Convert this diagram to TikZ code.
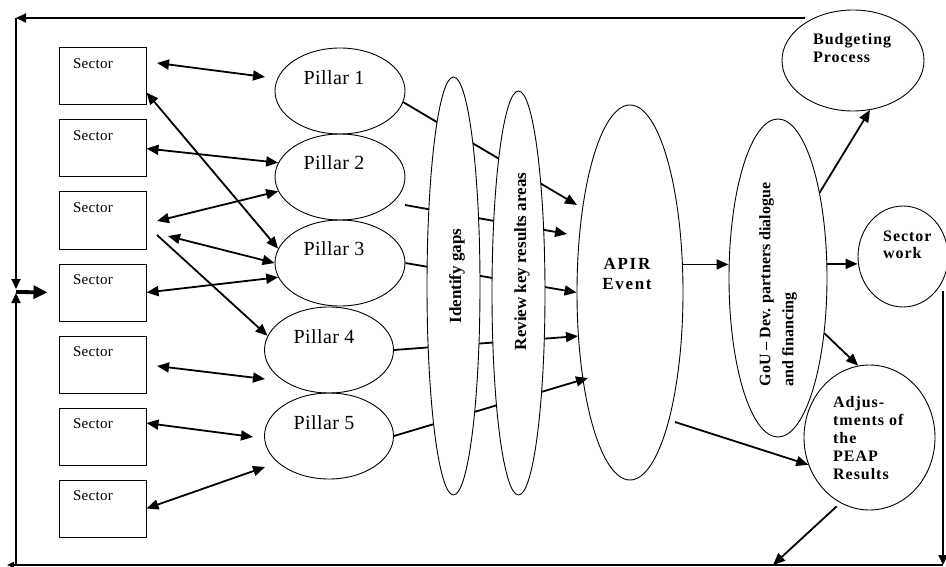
\documentclass[tikz,border=0pt]{standalone}
\usepackage{fontspec}
\setmainfont{Liberation Serif}
\usetikzlibrary{shapes.geometric,arrows.meta,calc}
\begin{document}
\begin{tikzpicture}[x=1pt,y=-1pt,
  sbox/.style={draw, rectangle, line width=1pt, minimum width=87pt, minimum height=57pt, inner sep=0pt},
  stext/.style={inner sep=0pt, font=\fontsize{15}{17}\selectfont\addfontfeatures{LetterSpace=2}},
  ell/.style={draw, ellipse, line width=0.9pt, inner sep=0pt},
  pill/.style={ell, minimum width=130pt, minimum height=86pt},
  ptext/.style={inner sep=0pt, font=\fontsize{20}{22}\selectfont\addfontfeatures{LetterSpace=2}},
  tall/.style={ell, fill=white},
  rtext/.style={inner sep=0pt, rotate=90, font=\fontsize{17}{20}\selectfont\bfseries},
  btext/.style={inner sep=0pt, align=left, font=\fontsize{16}{18}\selectfont\bfseries\addfontfeatures{LetterSpace=6}},
  conn/.style={line width=1.8pt, -{Triangle[length=12pt,width=10pt]}},
  dconn/.style={line width=1.8pt, {Triangle[length=12pt,width=10pt]}-{Triangle[length=12pt,width=10pt]}},
  frame/.style={line width=2.1pt},
  ftip/.style={-{Triangle[length=10pt,width=9pt]}}
]
\useasboundingbox (0,0) rectangle (946,567);

% sector boxes
\foreach \i in {1,...,7} {
  \node[sbox] (s\i) at (102.5,{76.5+72*(\i-1)}) {};
  \node[stext] (st\i) at (93,{63.5+72*(\i-1)}) {Sector};
}

% pillars
\node[pill] (p1) at (340,91) {};
\node[pill] (p2) at (340,177) {};
\node[pill] (p3) at (340,263) {};
\node[pill, minimum width=129pt] (p4) at (329,350) {};
\node[pill, minimum width=129pt] (p5) at (329,436) {};
\node[ptext] (pt1) at (334,78) {Pillar 1};
\node[ptext] (pt2) at (334,163) {Pillar 2};
\node[ptext] (pt3) at (334,249) {Pillar 3};
\node[ptext] (pt4) at (324,337) {Pillar 4};
\node[ptext] (pt5) at (324,423) {Pillar 5};

% APIR
\node[ell, minimum width=106pt, minimum height=375pt] (apir) at (630,292.5) {};

% pillar -> APIR lines (behind the tall ellipses)
\coordinate (l2s) at (405,205);
\coordinate (t1) at (577,205);
\coordinate (t2) at (567,234);
\coordinate (t5) at (588,378);
\draw[conn] (p1.-10) -- (t1);
\draw[conn] (l2s) -- (t2);
\draw[conn] (p3.east) -- (apir.west);
\draw[conn] (p4.east) -- (apir.220);
\draw[conn] (p5.east) -- (t5);

% tall ellipses
\node[tall, minimum width=53pt, minimum height=418pt] (idg) at (453.5,286) {};
\node[tall, minimum width=53pt, minimum height=404pt] (rev) at (518.5,293) {};
\node[rtext] (idgt) at (457,276) {Identify gaps};
\node[rtext] (revt) at (522,261.5) {Review key results areas};

\node[btext, align=center, font=\fontsize{17}{20}\selectfont\bfseries\addfontfeatures{LetterSpace=10}] (apirt) at (627,274) {APIR\\Event};

% GoU
\node[ell, minimum width=98pt, minimum height=318pt] (gou) at (778,278) {};
\node[inner sep=0pt, rotate=90, align=left, font=\fontsize{16}{23}\selectfont\bfseries] (gout) at (778,284.5) {GoU \textendash\ Dev. partners dialogue\\and financing};

% right-hand nodes
\node[ell, minimum width=142pt, minimum height=101pt] (bud) at (853,60.5) {};
\node[btext, anchor=west] (budt) at (813,48) {Budgeting\\Process};
\node[ell, minimum width=90pt, minimum height=101pt] (sw) at (903,256.5) {};
\node[btext, anchor=west, font=\fontsize{16}{17}\selectfont\bfseries\addfontfeatures{LetterSpace=6}] (swt) at (883,245) {Sector\\work};
\node[ell, minimum width=131pt, minimum height=145pt] (adj) at (869.5,437.5) {};
\node[btext, anchor=west] (adjt) at (833,438) {Adjus-\\tments of\\the\\PEAP\\Results};

% right-hand arrows
\coordinate (apirout) at (675,422);
\coordinate (bt) at (773,565);
\draw[conn] (apir.28) -- (apir.28 -| gou.west);
\draw[conn] (gou.16) -- (gou.16 -| sw.west);
\draw[conn] (gou.64) -- (bud.-71);
\draw[conn] (gou.-50) -- (adj.99);
\draw[conn] (apirout) -- (adj.204);
\draw[conn, shorten <=5pt] (adj.246) -- (bt);

% sector <-> pillar arrows
\coordinate (c1a) at (157,63);
\coordinate (c1b) at (265,77);
\coordinate (c4) at (157,221);
\coordinate (c5) at (168,236);
\coordinate (c7) at (157,235);
\coordinate (c8a) at (157,366);
\coordinate (c8b) at (265,379);
\coordinate (c9) at (253,437);
\coordinate (c10) at (265,467);
\draw[dconn] (c1a) -- (c1b);
\draw[dconn] (s1.-20) -- (p3.167);
\draw[dconn] (s2.east) -- (p2.167);
\draw[dconn] (c4) -- (p2.193);
\draw[dconn] (c5) -- (p3.west);
\draw[dconn] (s4.east) -- (p3.193);
\draw[conn] (c7) -- (p4.167);
\draw[dconn] (c8a) -- (c8b);
\draw[dconn] (s6.17) -- (c9);
\draw[dconn] (s7.east) -- (c10);

% feedback frame
\coordinate (tl) at (16,18);
\coordinate (tr) at (805,18);
\coordinate (lm1) at (16,289);
\coordinate (lm2) at (16,293);
\coordinate (lm) at (16,292);
\coordinate (bl) at (16,565);
\coordinate (br) at (943,565);
\coordinate (rt) at (943,291);
\coordinate (bend) at (7,565);
\draw[frame, ftip] (tr) -- (tl);
\draw[frame, ftip] (tl) -- (lm1);
\draw[frame, ftip] (bl) -- (lm2);
\draw[line width=3.8pt, -{Triangle[length=14pt,width=13pt]}, shorten >=11pt] (lm) -- (s4.west);
\draw[frame, ftip] (rt) -- (br);
\draw[frame, -{Triangle[length=7pt,width=6pt]}] (br) -- (bend);
\end{tikzpicture}
\end{document}
